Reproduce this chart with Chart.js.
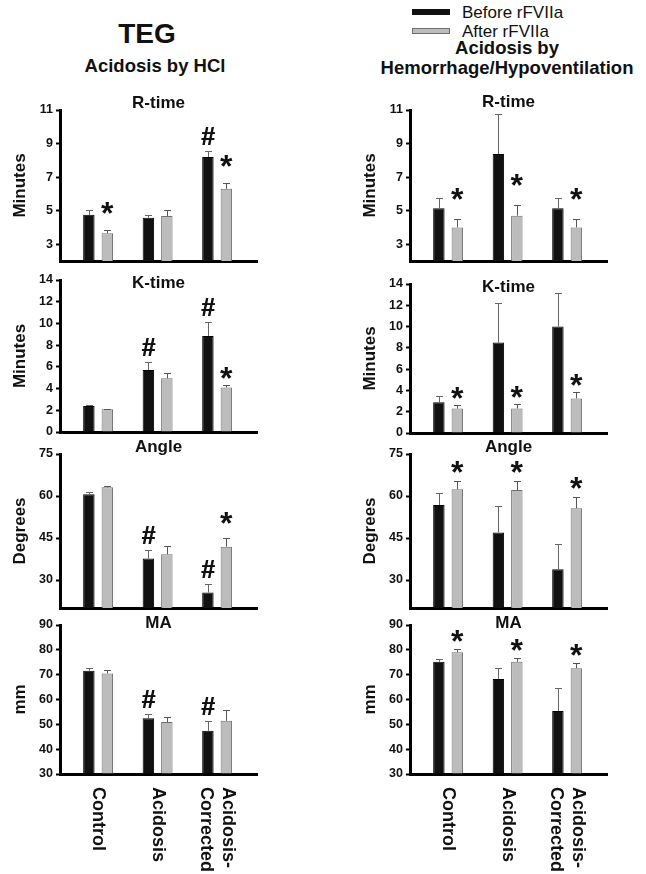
<!DOCTYPE html>
<html>
<head>
<meta charset="utf-8">
<script src="https://cdn.jsdelivr.net/npm/chart.js@4.4.1/dist/chart.umd.min.js"></script>
<style>
  body { margin: 0; background: #fff; width: 646px; height: 874px; position: relative; overflow: hidden;
         font-family: "Liberation Sans", Arial, sans-serif; color: #111; }
  canvas { position: absolute; }
  .t { position: absolute; white-space: nowrap; line-height: 1; font-weight: bold; transform: translate(-50%, -50%); }
  .lg { position: absolute; white-space: nowrap; line-height: 1; font-size: 17px; transform: translateY(-50%); }
  .box { position: absolute; width: 38px; height: 6px; box-sizing: border-box; }
</style>
</head>
<body>
<div class="t" style="left:147px;top:34px;font-size:28px">TEG</div>
<div class="t" style="left:155px;top:66px;font-size:18.5px">Acidosis by HCl</div>
<div class="t" style="left:507px;top:48px;font-size:18.5px">Acidosis by</div>
<div class="t" style="left:507px;top:68px;font-size:18.5px">Hemorrhage/Hypoventilation</div>
<div class="box" style="left:412px;top:9px;background:#111"></div>
<div class="box" style="left:412px;top:28px;background:#bcbcbc;border:1px solid #707070"></div>
<div class="lg" id="lg0" style="left:462px;top:12px"></div>
<div class="lg" id="lg1" style="left:462px;top:31px"></div>

<script>
const FONT = '"Liberation Sans", Arial, sans-serif';
Chart.defaults.font.family = FONT;
Chart.defaults.color = '#111';

const categories = ['Control', 'Acidosis', ['Acidosis-', 'Corrected']];
const seriesLabels = ['Before rFVIIa', 'After rFVIIa'];

const rTicks = [3, 5, 7, 9, 11];
const kTicks = [0, 2, 4, 6, 8, 10, 12, 14];
const angleTicks = [30, 45, 60, 75];
const maTicks = [30, 40, 50, 60, 70, 80, 90];

// acidosis by HCl
const hclRBefore = [4.75, 4.58, 8.2];
const hclRBeforeErr = [0.3, 0.15, 0.33];
const hclRAfter = [3.65, 4.68, 6.3];
const hclRAfterErr = [0.2, 0.35, 0.35];
const hclKBefore = [2.4, 5.7, 8.85];
const hclKBeforeErr = [0.05, 0.77, 1.3];
const hclKAfter = [2.1, 4.95, 4.1];
const hclKAfterErr = [0.05, 0.45, 0.22];
const hclAngleBefore = [60.6, 37.7, 25.5];
const hclAngleBeforeErr = [0.7, 3.0, 3.0];
const hclAngleAfter = [63.1, 39.2, 41.9];
const hclAngleAfterErr = [0.6, 3.0, 3.0];
const hclMaBefore = [71.6, 52.5, 47.4];
const hclMaBeforeErr = [1.2, 1.6, 4.0];
const hclMaAfter = [70.5, 50.9, 51.4];
const hclMaAfterErr = [1.3, 2.1, 4.4];

// acidosis by hemorrhage / hypoventilation
const hemRBefore = [5.14, 8.38, 5.14];
const hemRBeforeErr = [0.64, 2.36, 0.64];
const hemRAfter = [4.0, 4.7, 4.0];
const hemRAfterErr = [0.48, 0.62, 0.48];
const hemKBefore = [2.9, 8.5, 10.0];
const hemKBeforeErr = [0.53, 3.7, 3.2];
const hemKAfter = [2.3, 2.3, 3.25];
const hemKAfterErr = [0.32, 0.42, 0.58];
const hemAngleBefore = [56.8, 47.0, 33.8];
const hemAngleBeforeErr = [4.4, 9.6, 8.9];
const hemAngleAfter = [62.4, 62.1, 55.6];
const hemAngleAfterErr = [3.1, 3.3, 4.2];
const hemMaBefore = [75.2, 68.3, 55.4];
const hemMaBeforeErr = [1.3, 4.3, 9.1];
const hemMaAfter = [79.0, 75.2, 72.6];
const hemMaAfterErr = [1.2, 1.6, 2.0];

// significance marks (# vs control, * vs before)
const none = ['', '', ''];
const allStar = ['*', '*', '*'];
const hclRMarkBefore = ['', '', '#'];
const hclRMarkAfter = ['*', '', '*'];
const hclMarkBefore = ['', '#', '#'];
const hclMarkAfter = ['', '', '*'];

document.getElementById('lg0').textContent = seriesLabels[0];
document.getElementById('lg1').textContent = seriesLabels[1];

// starGap: space between error bar top and the star in px
const panels = [
  { col: 0, top: 110, bottom: 261, title: 'R-time', titleDy: -7, yTitle: 'Minutes', min: 2, max: 11, ticks: rTicks, starGap: 16,
    before: hclRBefore, beforeErr: hclRBeforeErr, after: hclRAfter, afterErr: hclRAfterErr, markB: hclRMarkBefore, markA: hclRMarkAfter },
  { col: 0, top: 280, bottom: 432, title: 'K-time', titleDy: 3, yTitle: 'Minutes', min: 0, max: 14, ticks: kTicks, starGap: 6,
    before: hclKBefore, beforeErr: hclKBeforeErr, after: hclKAfter, afterErr: hclKAfterErr, markB: hclMarkBefore, markA: hclMarkAfter },
  { col: 0, top: 454, bottom: 608, title: 'Angle', titleDy: -7, yTitle: 'Degrees', min: 20, max: 75, ticks: angleTicks, starGap: 14,
    before: hclAngleBefore, beforeErr: hclAngleBeforeErr, after: hclAngleAfter, afterErr: hclAngleAfterErr, markB: hclMarkBefore, markA: hclMarkAfter },
  { col: 0, top: 625, bottom: 774, title: 'MA', titleDy: -2, yTitle: 'mm', min: 30, max: 90, ticks: maTicks, labels: true, starGap: 7,
    before: hclMaBefore, beforeErr: hclMaBeforeErr, after: hclMaAfter, afterErr: hclMaAfterErr, markB: hclMarkBefore, markA: none },
  { col: 1, top: 110, bottom: 261, title: 'R-time', titleDy: -8, yTitle: 'Minutes', min: 2, max: 11, ticks: rTicks, starGap: 19,
    before: hemRBefore, beforeErr: hemRBeforeErr, after: hemRAfter, afterErr: hemRAfterErr, markB: none, markA: allStar },
  { col: 1, top: 284, bottom: 433, title: 'K-time', titleDy: 3, yTitle: 'Minutes', min: 0, max: 14, ticks: kTicks, starGap: 6,
    before: hemKBefore, beforeErr: hemKBeforeErr, after: hemKAfter, afterErr: hemKAfterErr, markB: none, markA: allStar },
  { col: 1, top: 454, bottom: 608, title: 'Angle', titleDy: -7, yTitle: 'Degrees', min: 20, max: 75, ticks: angleTicks, starGap: 8,
    before: hemAngleBefore, beforeErr: hemAngleBeforeErr, after: hemAngleAfter, afterErr: hemAngleAfterErr, markB: none, markA: allStar },
  { col: 1, top: 625, bottom: 774, title: 'MA', titleDy: -2, yTitle: 'mm', min: 30, max: 90, ticks: maTicks, labels: true, starGap: 7,
    before: hemMaBefore, beforeErr: hemMaBeforeErr, after: hemMaAfter, afterErr: hemMaAfterErr, markB: none, markA: allStar }
];

function makeDecor(p) {
  return {
    id: 'decor',
    afterDatasetsDraw(chart) {
      const ctx = chart.ctx;
      const y = chart.scales.y;
      chart.data.datasets.forEach((ds, di) => {
        chart.getDatasetMeta(di).data.forEach((bar, i) => {
          const top = Math.round(y.getPixelForValue(ds.data[i].y + ds.err[i]));
          const x = Math.round(bar.x) + 0.5;
          ctx.save();
          ctx.strokeStyle = ds.errColor;
          ctx.lineWidth = 1;
          ctx.beginPath();
          ctx.moveTo(x, bar.y);
          ctx.lineTo(x, top + 0.5);
          ctx.moveTo(x - 3.5, top + 0.5);
          ctx.lineTo(x + 3.5, top + 0.5);
          ctx.stroke();
          const m = ds.marks[i];
          if (m) {
            ctx.fillStyle = '#111';
            ctx.font = (m === '*' ? 'bold 32px ' : 'bold 25px ') + FONT;
            ctx.textAlign = 'center';
            ctx.textBaseline = 'alphabetic';
            const desc = ctx.measureText(m).actualBoundingBoxDescent;
            const gap = m === '*' ? p.starGap : 6;
            ctx.fillText(m, bar.x, top - gap - desc);
            if (m === '#') ctx.fillText(m, bar.x + 0.6, top - gap - desc);
          }
          ctx.restore();
        });
      });
    },
    afterDraw(chart) {
      const ctx = chart.ctx;
      const a = chart.chartArea;
      ctx.save();
      ctx.fillStyle = '#111';
      ctx.font = 'bold 17px ' + FONT;
      ctx.textAlign = 'center';
      ctx.textBaseline = 'middle';
      ctx.fillText(p.title, (a.left + a.right) / 2, a.top + p.titleDy);
      if (p.labels) {
        const xs = chart.scales.x;
        ctx.font = 'bold 18px ' + FONT;
        ctx.textAlign = 'left';
        categories.forEach((c, i) => {
          const lines = Array.isArray(c) ? c : [c];
          ctx.save();
          ctx.translate(xs.getPixelForValue(i), a.bottom + 13);
          ctx.rotate(Math.PI / 2);
          lines.forEach((ln, k) => {
            ctx.fillText(ln, 0, (k - (lines.length - 1) / 2) * 22);
          });
          ctx.restore();
        });
      }
      ctx.restore();
    }
  };
}

panels.forEach(p => {
  const left = p.col ? 350 : 0;
  const width = p.col ? 296 : 323;
  const cTop = p.top - 24;
  const cBottom = p.labels ? 874 : p.bottom + 12;
  const canvas = document.createElement('canvas');
  canvas.width = width;
  canvas.height = cBottom - cTop;
  canvas.style.left = left + 'px';
  canvas.style.top = cTop + 'px';
  document.body.appendChild(canvas);

  new Chart(canvas, {
    type: 'bar',
    data: {
      datasets: [
        { label: seriesLabels[0], data: p.before.map((v, i) => ({ x: i, y: v })), err: p.beforeErr, marks: p.markB,
          backgroundColor: '#111', borderColor: '#000', borderWidth: 1, errColor: '#666', base: p.min },
        { label: seriesLabels[1], data: p.after.map((v, i) => ({ x: i, y: v })), err: p.afterErr, marks: p.markA,
          backgroundColor: '#bcbcbc', borderColor: '#707070', borderWidth: 1, errColor: '#555', base: p.min }
      ]
    },
    options: {
      responsive: false,
      animation: false,
      events: [],
      categoryPercentage: 0.62,
      barPercentage: 0.62,
      layout: { padding: { top: 24, left: 0, right: width - 257, bottom: cBottom - p.bottom } },
      plugins: { legend: { display: false }, tooltip: { enabled: false } },
      scales: {
        x: {
          type: 'linear', min: -0.64, max: 2.67, offset: false, z: 1,
          grid: { display: false },
          border: { display: true, color: '#000', width: 3 },
          ticks: { display: false },
          afterBuildTicks: s => { s.ticks = categories.map((c, i) => ({ value: i })); },
          afterFit: s => { s.height = 0; }
        },
        y: {
          min: p.min, max: p.max, z: 1,
          afterBuildTicks: s => { s.ticks = p.ticks.map(v => ({ value: v })); },
          afterFit: s => { s.width = 60; },
          grid: { display: true, drawOnChartArea: false, drawTicks: true, tickLength: 4, tickWidth: 2, tickColor: '#000' },
          border: { display: true, color: '#000', width: 3 },
          ticks: { color: '#111', padding: 3, font: { size: 12.5, weight: 'bold' } },
          title: { display: true, text: p.yTitle, color: '#111', font: { size: 17, weight: 'bold' }, padding: { top: 10, bottom: 0 } }
        }
      }
    },
    plugins: [makeDecor(p)]
  });
});
</script>
</body>
</html>
